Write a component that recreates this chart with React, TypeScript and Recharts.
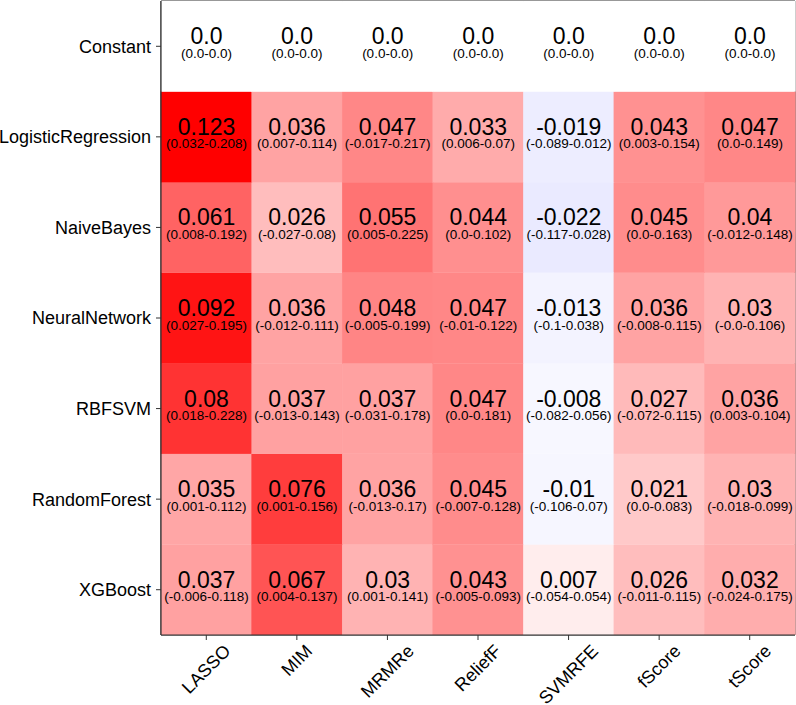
import React from 'react';
import { BarChart, Bar, XAxis, YAxis, CartesianGrid } from 'recharts';

const methods = ['LASSO', 'MIM', 'MRMRe', 'ReliefF', 'SVMRFE', 'fScore', 'tScore'];
const models = ['Constant', 'LogisticRegression', 'NaiveBayes', 'NeuralNetwork', 'RBFSVM', 'RandomForest', 'XGBoost'];

// one array per model (row), ordered as methods
const constantMean = [0, 0, 0, 0, 0, 0, 0];
const constantLow = [0, 0, 0, 0, 0, 0, 0];
const constantHigh = [0, 0, 0, 0, 0, 0, 0];

const lrMean = [0.123, 0.036, 0.047, 0.033, -0.019, 0.043, 0.047];
const lrLow = [0.032, 0.007, -0.017, 0.006, -0.089, 0.003, 0.0];
const lrHigh = [0.208, 0.114, 0.217, 0.07, 0.012, 0.154, 0.149];

const nbMean = [0.061, 0.026, 0.055, 0.044, -0.022, 0.045, 0.04];
const nbLow = [0.008, -0.027, 0.005, 0.0, -0.117, 0.0, -0.012];
const nbHigh = [0.192, 0.08, 0.225, 0.102, 0.028, 0.163, 0.148];

const nnMean = [0.092, 0.036, 0.048, 0.047, -0.013, 0.036, 0.03];
const nnLow = [0.027, -0.012, -0.005, -0.01, -0.1, -0.008, -0];
const nnHigh = [0.195, 0.111, 0.199, 0.122, 0.038, 0.115, 0.106];

const svmMean = [0.08, 0.037, 0.037, 0.047, -0.008, 0.027, 0.036];
const svmLow = [0.018, -0.013, -0.031, 0.0, -0.082, -0.072, 0.003];
const svmHigh = [0.228, 0.143, 0.178, 0.181, 0.056, 0.115, 0.104];

const rfMean = [0.035, 0.076, 0.036, 0.045, -0.01, 0.021, 0.03];
const rfLow = [0.001, 0.001, -0.013, -0.007, -0.106, 0.0, -0.018];
const rfHigh = [0.112, 0.156, 0.17, 0.128, 0.07, 0.083, 0.099];

const xgbMean = [0.037, 0.067, 0.03, 0.043, 0.007, 0.026, 0.032];
const xgbLow = [-0.006, 0.004, 0.001, -0.005, -0.054, -0.011, -0.024];
const xgbHigh = [0.118, 0.137, 0.141, 0.093, 0.054, 0.115, 0.175];

const means = [constantMean, lrMean, nbMean, nnMean, svmMean, rfMean, xgbMean];
const lows = [constantLow, lrLow, nbLow, nnLow, svmLow, rfLow, xgbLow];
const highs = [constantHigh, lrHigh, nbHigh, nnHigh, svmHigh, rfHigh, xgbHigh];

const POS_MAX = 0.1;
const NEG_MAX = 0.27;
const FONT = "'Liberation Sans', Arial, Helvetica, sans-serif";

function fmt(v: number): string {
  if (Object.is(v, -0)) return '-0.0';
  if (Number.isInteger(v)) return v.toFixed(1);
  return String(v);
}

function colorFor(v: number): string {
  if (v >= 0) {
    const t = Math.min(v / POS_MAX, 1);
    const g = Math.round(255 * (1 - t));
    return `rgb(255,${g},${g})`;
  }
  const t = Math.min(-v / NEG_MAX, 1);
  const g = Math.round(255 * (1 - t));
  return `rgb(${g},${g},255)`;
}

let ctx: CanvasRenderingContext2D | null = null;
function textWidth(s: string, size: number): number {
  if (!ctx) ctx = document.createElement('canvas').getContext('2d');
  if (!ctx) return s.length * size * 0.6;
  ctx.font = `${size}px "Liberation Sans"`;
  return ctx.measureText(s).width;
}

const data = methods.map((m) => {
  const entry: Record<string, any> = { method: m };
  models.forEach((_, i) => {
    entry['r' + i] = 1;
  });
  return entry;
});

function makeShape(row: number) {
  return (p: any) => {
    const { x, y, width, height, payload } = p;
    const col = methods.indexOf(payload.method);
    const v = means[row][col];
    const cx = x + width / 2;
    const cy = y + height / 2;
    return (
      <g>
        <rect x={x} y={y} width={width} height={height} fill={colorFor(v)} stroke={colorFor(v)} strokeWidth={0.3} />
        <text x={cx} y={cy - 2} textAnchor="middle" fontSize={23} fill="#000" fontFamily={FONT}>
          {fmt(v)}
        </text>
        <text x={cx} y={cy + 11.5} textAnchor="middle" fontSize={13.5} fill="#000" fontFamily={FONT}>
          {`(${fmt(lows[row][col])}-${fmt(highs[row][col])})`}
        </text>
      </g>
    );
  };
}

const XTick = (props: any) => {
  const { x, y, payload } = props;
  const label = String(payload.value);
  const w = textWidth(label, 18);
  const ext = (w + 14) / Math.SQRT2;
  const cy = y + 1 + ext / 2;
  return (
    <text
      x={x}
      y={cy}
      transform={`rotate(-45 ${x} ${cy})`}
      textAnchor="middle"
      dominantBaseline="central"
      fontSize={18}
      fill="#000"
      fontFamily={FONT}
    >
      {label}
    </text>
  );
};

const yTicks = models.map((_, i) => i + 0.5);

export default function App() {
  const rowOrder = models.map((_, i) => models.length - 1 - i);
  return (
    <div style={{ position: 'absolute', left: 0, top: 0, fontFamily: FONT }}>
      <BarChart
        width={796}
        height={705}
        data={data}
        margin={{ top: 1, right: 1, bottom: 0, left: 0 }}
        barCategoryGap={0}
        barGap={0}
      >
        {rowOrder.map((r) => (
          <Bar key={r} dataKey={'r' + r} stackId="a" isAnimationActive={false} shape={makeShape(r)} />
        ))}
        <CartesianGrid
          stroke="#333"
          strokeWidth={1.2}
          fill="none"
          verticalCoordinatesGenerator={({ offset }: any) => [offset.left, offset.left + offset.width]}
          horizontalCoordinatesGenerator={({ offset }: any) => [offset.top, offset.top + offset.height]}
        />
        <XAxis
          dataKey="method"
          type="category"
          height={70}
          tickSize={5}
          tickLine={{ stroke: '#333' }}
          axisLine={{ stroke: '#333', strokeWidth: 1.2 }}
          tick={<XTick />}
          interval={0}
        />
        <YAxis
          type="number"
          domain={[0, models.length]}
          ticks={yTicks}
          width={161}
          tickSize={5}
          tickMargin={5}
          tickLine={{ stroke: '#333' }}
          axisLine={{ stroke: '#333', strokeWidth: 1.2 }}
          tick={{ fontSize: 18, fill: '#000', fontFamily: FONT }}
          tickFormatter={(v: number) => models[models.length - 1 - Math.floor(v)]}
          allowDataOverflow
        />
      </BarChart>
    </div>
  );
}
